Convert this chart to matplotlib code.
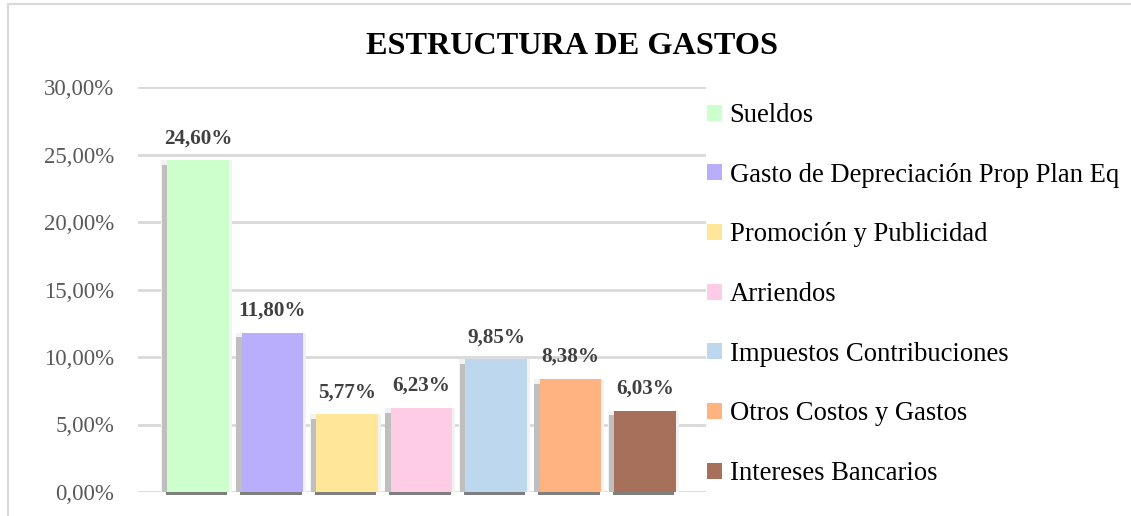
import matplotlib.pyplot as plt
from matplotlib.patches import Rectangle
from matplotlib.ticker import FuncFormatter
import numpy as np

categories = ["Sueldos", "Gasto de Depreciación Prop Plan Eq", "Promoción y Publicidad",
              "Arriendos", "Impuestos Contribuciones", "Otros Costos y Gastos",
              "Intereses Bancarios"]
values = [24.60, 11.80, 5.77, 6.23, 9.85, 8.38, 6.03]
colors = ["#CCFFCC", "#B9AEFB", "#FFE699", "#FFCCE5", "#BDD7EE", "#FFB380", "#A6705A"]
yticks = [0, 5, 10, 15, 20, 25, 30]

plt.rcParams['font.family'] = ['Liberation Serif', 'DejaVu Serif']

W, H = 1131, 516
fig = plt.figure(figsize=(W / 100, H / 100), dpi=100)

# outer chart frame
fig.patches.append(Rectangle((8 / W, -0.1), 1.2, 1.1 - 4 / H, transform=fig.transFigure,
                             fill=False, edgecolor="#d9d9d9", linewidth=1.5, zorder=0))

ax = fig.add_axes([138 / W, 1 - 492 / H, (706 - 138) / W, (492 - 87) / H])
x = np.arange(len(values))
width = 0.83

# soft halo + shadow
ax.bar(x - 0.02, values, width=width + 0.12, color="#f2f2f2", zorder=1)
ax.bar(x - 0.07, [v - 0.35 for v in values], width=width, color="#bfbfbf", zorder=2)
bars = ax.bar(x, values, width=width, color=colors, zorder=3, label=categories)
for b in ax.bar(x - 0.02, [0.2] * len(values), bottom=-0.2, width=width, color="#7f7f7f", zorder=2):
    b.set_clip_on(False)

for xi, v in zip(x, values):
    ax.annotate(f"{v:.2f}%".replace(".", ","), (xi, v), xytext=(0, 8.5),
                textcoords="offset points", ha="center", va="bottom",
                fontsize=15.2, fontweight="bold", color="#404040")

ax.set_xlim(-0.805, 6.82)
ax.set_ylim(0, 30)
ax.set_yticks(yticks)
ax.yaxis.set_major_formatter(FuncFormatter(lambda v, p: f"{v:.2f}%".replace(".", ",")))
ax.tick_params(axis="y", length=0, pad=17, labelsize=16.5, labelcolor="#595959")
ax.set_xticks([])
ax.grid(axis="y", color="#d9d9d9", linewidth=2, zorder=0)
ax.set_axisbelow(True)
for s in ax.spines.values():
    s.set_visible(False)

fig.text(572 / W, 1 - 46 / H, "ESTRUCTURA DE GASTOS", ha="center", va="center",
         fontsize=23.2, fontweight="bold", color="black")

leg = fig.legend(handles=list(bars), labels=categories, loc="upper left",
                 bbox_to_anchor=(707 / W, 1 - 103 / H), frameon=False,
                 fontsize=19.2, handlelength=0.55, handleheight=0.55,
                 handletextpad=0.3, labelspacing=1.3, borderaxespad=0, borderpad=0)

fig.savefig("out.png", dpi=100, facecolor="white")
